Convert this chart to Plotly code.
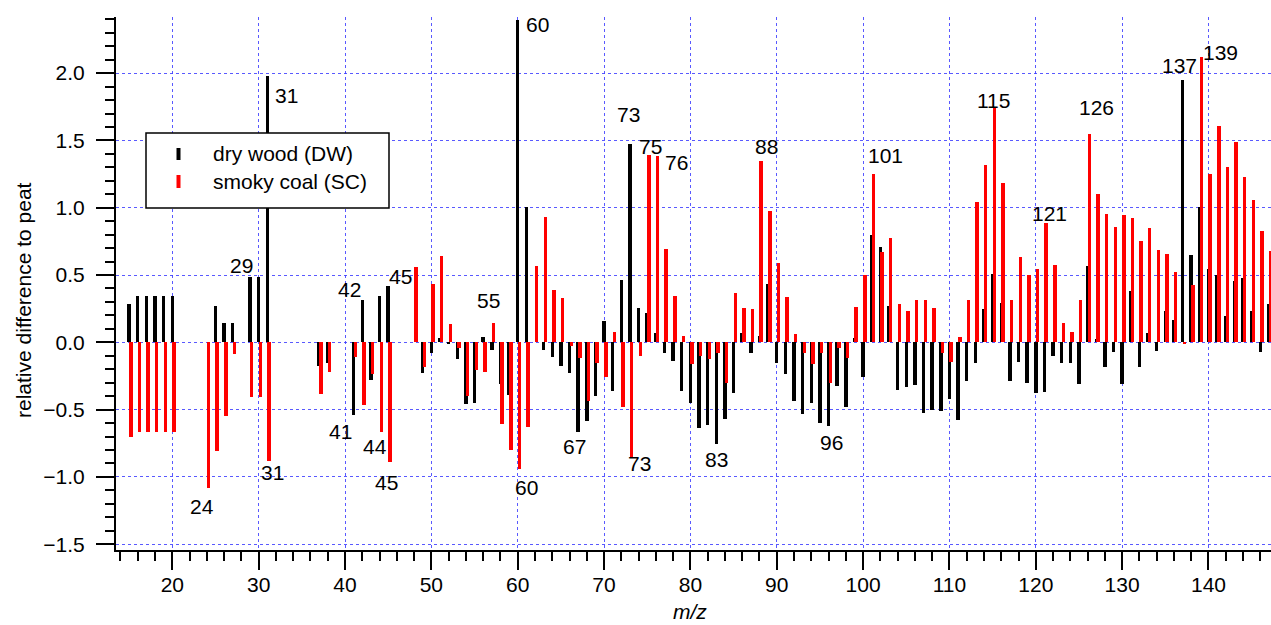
import plotly.graph_objects as go

# m/z values and relative differences to peat for each fuel
mz = list(range(15, 148))

dry_wood = [
    0.282, 0.344, 0.344, 0.344, 0.344, 0.344,          # 15-20
    None, None, None, None,                            # 21-24
    0.272, 0.141, 0.141, None, 0.485, 0.485, 1.976,    # 25-31
    None, None, None, None, None,                      # 32-36
    -0.176, -0.151, None, None,                        # 37-40
    -0.54, 0.315, -0.282, 0.344, 0.419,                # 41-45
    None, None, None,                                  # 46-48
    -0.23, -0.082, 0.035, -0.012, -0.124, -0.458,      # 49-54
    -0.448, 0.037, -0.057, -0.31, -0.391,              # 55-59
    2.395, 1.003, None, -0.057, -0.111, -0.173,        # 60-65
    -0.225, -0.669, -0.582, -0.399, 0.158,             # 66-70
    -0.359, 0.463, 1.473, 0.258, 0.215,                # 71-75
    0.072, -0.082, -0.139, -0.362, -0.453,             # 76-80
    -0.639, -0.614, -0.755, -0.57, -0.379,             # 81-85
    0.067, -0.077, 0.047, 0.433, -0.151,               # 86-90
    -0.238, -0.436, -0.53, -0.453, -0.602,             # 91-95
    -0.619, -0.324, -0.478, 0.035, -0.255,             # 96-100
    0.797, 0.705, 0.27, -0.354, -0.329,                # 101-105
    -0.317, -0.527, -0.503, -0.508, -0.423,            # 106-110
    -0.577, -0.285, -0.151, 0.245, 0.508,              # 111-115
    0.29, -0.287, -0.144, -0.305, -0.379,              # 116-120
    -0.367, -0.102, -0.151, -0.151, -0.31,             # 121-125
    0.567, 0.025, -0.181, -0.074, -0.31,               # 126-130
    0.381, -0.186, 0.067, -0.064, 0.233,               # 131-135
    0.166, 1.949, 0.649, 1.003, 0.547,                 # 136-140
    0.50, 0.196, 0.456, 0.48, 0.233,                   # 141-145
    -0.074, 0.282,                                     # 146-147
]

smoky_coal = [
    -0.706, -0.666, -0.666, -0.666, -0.666, -0.666,    # 15-20
    None, None, None, -1.08,                           # 21-24
    -0.807, -0.55, -0.087, None, -0.409, -0.409, -0.879,  # 25-31
    None, None, None, None, None,                      # 32-36
    -0.386, -0.218, None, None,                        # 37-40
    -0.111, -0.466, -0.235, -0.664, -0.892,            # 41-45
    None, None, 0.562,                                 # 46-48
    -0.181, 0.431, 0.641, 0.136, -0.04, -0.396,        # 49-54
    -0.206, -0.223, 0.146, -0.607, -0.80,              # 55-59
    -0.944, -0.627, 0.567, 0.929, 0.389, 0.332,        # 60-65
    -0.027, -0.114, -0.436, -0.156, -0.255,            # 66-70
    0.074, -0.478, -0.854, -0.099, 1.392,              # 71-75
    1.387, 0.696, 0.344, 0.047, -0.161,                # 76-80
    -0.099, -0.126, -0.077, -0.30, 0.364,              # 81-85
    0.253, 0.245, 1.347, 0.978, 0.587,                 # 86-90
    0.339, 0.059, -0.082, -0.161, -0.082,              # 91-95
    -0.305, -0.045, -0.119, 0.263, 0.50,               # 96-100
    1.251, 0.669, 0.778, 0.282, 0.235,                 # 101-105
    0.315, 0.315, 0.253, -0.082, -0.144,               # 106-110
    0.037, 0.315, 1.04, 1.317, 1.738,                  # 111-115
    1.181, 0.315, 0.632, 0.50, 0.542,                  # 116-120
    0.889, 0.575, 0.144, 0.079, 0.315,                 # 121-125
    1.548, 1.102, 0.953, 0.854, 0.946,                 # 126-130
    0.924, 0.755, 0.849, 0.686, 0.654,                 # 131-135
    0.52, -0.015, 0.426, 2.122, 1.248,                 # 136-140
    1.607, 1.305, 1.488, 1.231, 1.057,                 # 141-145
    0.83, 0.676,                                       # 146-147
]

# peak labels: (text, m/z position, value position)
peak_labels = [
    ("60", 62.35, 2.365), ("31", 33.17, 1.837), ("29", 27.98, 0.574),
    ("31", 31.63, -0.969), ("24", 23.46, -1.219), ("42", 40.5, 0.389),
    ("45", 46.37, 0.487), ("41", 39.5, -0.664), ("44", 43.47, -0.776),
    ("45", 44.83, -1.04), ("55", 56.6, 0.314), ("60", 61.04, -1.082),
    ("67", 66.55, -0.776), ("73", 72.81, 1.689), ("75", 75.4, 1.458),
    ("76", 78.41, 1.337), ("73", 74.05, -0.904), ("83", 82.97, -0.867),
    ("88", 88.84, 1.453), ("96", 96.36, -0.743), ("101", 102.54, 1.386),
    ("115", 115.08, 1.795), ("121", 121.64, 0.958), ("126", 127.05, 1.743),
    ("137", 136.7, 2.06), ("139", 141.41, 2.155),
]

series_names = ["dry wood (DW)", "smoky coal (SC)"]
series_colors = ["#000000", "#ff0000"]

FONT = "Arial, 'Liberation Sans', sans-serif"
W, H = 1271, 625
ML, MR, MT, MB = 116, 0, 17, 75
PW, PH = W - ML - MR, H - MT - MB


def px_x(px):
    return (px - ML) / PW


def px_y(py):
    return (H - MB - py) / PH


fig = go.Figure()
fig.add_trace(go.Bar(x=mz, y=dry_wood, name=series_names[0], width=0.4, offset=-0.2,
                     marker=dict(color=series_colors[0], line=dict(width=0))))
fig.add_trace(go.Bar(x=mz, y=smoky_coal, name=series_names[1], width=0.4, offset=0.0,
                     marker=dict(color=series_colors[1], line=dict(width=0))))

grid_color = "rgba(60,60,255,0.85)"
axis_common = dict(
    showline=True, linecolor="black", linewidth=2,
    ticks="outside", ticklen=18, tickwidth=2, tickcolor="black",
    showgrid=True, gridcolor=grid_color, griddash="dot", gridwidth=1,
    zeroline=False, tickfont=dict(family=FONT, size=21, color="black"),
)

fig.update_xaxes(range=[13.48, 147.24], tick0=0, dtick=10, ticklabelstandoff=-3,
                 minor=dict(dtick=2, ticks="outside", ticklen=9, tickwidth=2,
                            tickcolor="black", showgrid=False),
                 **axis_common)
fig.update_yaxes(range=[-1.543, 2.417], tick0=0, dtick=0.5, tickformat=".1f",
                 ticklabelstandoff=7,
                 minor=dict(dtick=0.1, ticks="outside", ticklen=9, tickwidth=2,
                            tickcolor="black", showgrid=False),
                 **axis_common)

annotations = []
for text, xv, yv in peak_labels:
    annotations.append(dict(x=xv, y=yv, xref="x", yref="y", text=text, showarrow=False,
                            xanchor="center", yanchor="middle",
                            font=dict(family=FONT, size=21, color="black")))

# axis titles
annotations.append(dict(x=px_x(690), y=px_y(611), xref="paper", yref="paper",
                        text="<i>m/z</i>", showarrow=False, xanchor="center", yanchor="middle",
                        font=dict(family=FONT, size=21, color="black")))
annotations.append(dict(x=px_x(23), y=px_y(300), xref="paper", yref="paper",
                        text="relative difference to peat", textangle=-90, showarrow=False,
                        xanchor="center", yanchor="middle",
                        font=dict(family=FONT, size=21, color="black")))

# legend box with thin bar symbols
shapes = [dict(type="rect", xref="paper", yref="paper", layer="above",
               x0=px_x(146), x1=px_x(389), y0=px_y(208), y1=px_y(133),
               fillcolor="white", line=dict(color="black", width=1.5))]
legend_rows = [(148, 160, 153), (175, 188, 181)]
for (top, bottom, mid), name, color in zip(legend_rows, series_names, series_colors):
    shapes.append(dict(type="rect", xref="paper", yref="paper", layer="above",
                       x0=px_x(176.5), x1=px_x(180.5), y0=px_y(bottom), y1=px_y(top),
                       fillcolor=color, line=dict(width=0)))
    annotations.append(dict(x=px_x(211), y=px_y(mid), xref="paper", yref="paper",
                            text=name, showarrow=False, xanchor="left", yanchor="middle",
                            font=dict(family=FONT, size=21, color="black")))

fig.update_layout(
    width=W, height=H,
    margin=dict(l=ML, r=MR, t=MT, b=MB, pad=0),
    barmode="overlay", bargap=0,
    showlegend=False,
    plot_bgcolor="white", paper_bgcolor="white",
    font=dict(family=FONT, size=21, color="black"),
    annotations=annotations, shapes=shapes,
)

fig.write_html("out.html")
